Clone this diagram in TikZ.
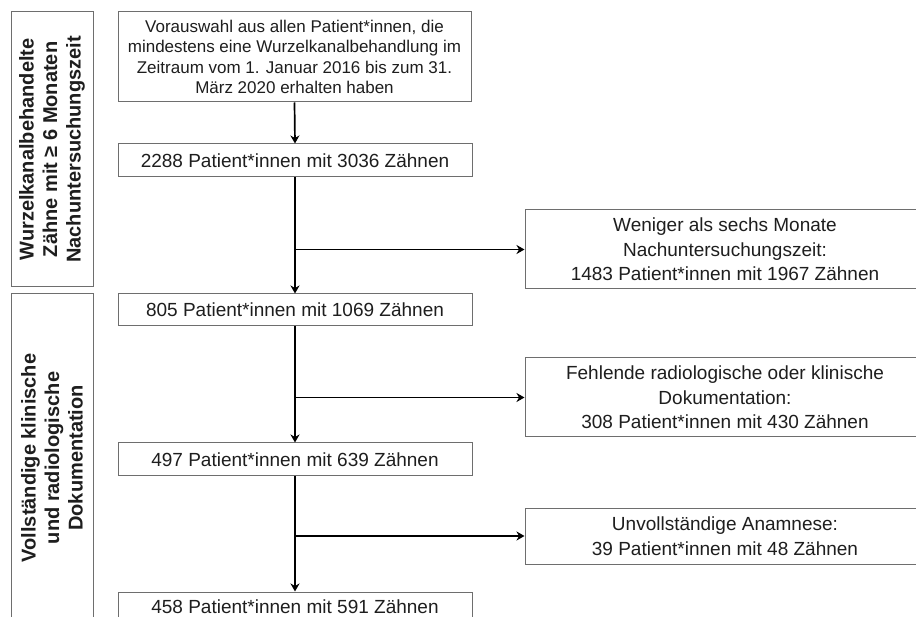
\documentclass[tikz,border=0pt]{standalone}
\usepackage{fontspec}
\setmainfont{Liberation Sans}
\usetikzlibrary{arrows.meta}
\definecolor{boxline}{HTML}{6E6E6E}
\definecolor{txt}{HTML}{1E1E1E}
\tikzset{
  mainbox/.style={draw=boxline, line width=1pt, rectangle, minimum width=354pt, inner sep=0pt, align=center, text=txt, font=\fontsize{19}{23}\selectfont},
  sidebox/.style={draw=boxline, line width=1pt, rectangle, minimum width=400pt, inner sep=0pt, align=center, text=txt, font=\fontsize{19}{24.5}\selectfont},
  labelbox/.style={draw=boxline, line width=1pt, rectangle, rotate=90, minimum height=82pt, inner sep=0pt, align=center, text=txt, font=\fontsize{20}{23.5}\selectfont\bfseries},
  flow/.style={line width=1.7pt, draw=black, -{Stealth[length=8pt,width=9pt,inset=2.5pt]}},
  plain/.style={line width=1.7pt, draw=black}
}
\begin{document}
\begin{tikzpicture}[x=1pt,y=-1pt]
\useasboundingbox (0,0) rectangle (916,617);
\clip (0,0) rectangle (916,617);
\fill[white] (0,0) rectangle (916,617);
% left labels
\node[labelbox, minimum width=275pt] (l1) at (52,149.5) {Wurzelkanalbehandelte\\Zähne mit ≥ 6 Monaten\\Nachuntersuchungszeit};
\node[labelbox, minimum width=328pt] (l2) at (52,458) {Vollständige klinische\\und radiologische\\Dokumentation};
% main column
\node[mainbox, minimum width=353pt, minimum height=90pt, font=\fontsize{17}{20.5}\selectfont] (b1) at (294.5,57) {Vorauswahl aus allen Patient*innen, die\\mindestens eine Wurzelkanalbehandlung im\\Zeitraum vom 1. Januar 2016 bis zum 31.\\März 2020 erhalten haben};
\node[mainbox, minimum height=33pt] (b2) at (295,160.5) {2288 Patient*innen mit 3036 Zähnen};
\node[mainbox, minimum height=32pt] (b3) at (295,310) {805 Patient*innen mit 1069 Zähnen};
\node[mainbox, minimum height=33pt] (b4) at (295,459.5) {497 Patient*innen mit 639 Zähnen};
\node[mainbox, minimum height=30pt] (b5) at (295,607) {458 Patient*innen mit 591 Zähnen};
% side boxes
\node[sidebox, minimum height=79pt] (r1) at (725,249.5) {Weniger als sechs Monate\\Nachuntersuchungszeit:\\1483 Patient*innen mit 1967 Zähnen};
\node[sidebox, minimum height=79pt] (r2) at (725,397.5) {Fehlende radiologische oder klinische\\Dokumentation:\\308 Patient*innen mit 430 Zähnen};
\node[sidebox, minimum height=56pt] (r3) at (725,536) {Unvollständige Anamnese:\\39 Patient*innen mit 48 Zähnen};
% connectors
\draw[flow] (b1.south) -- (b2.north);
\draw[flow] (b2.south) -- (b3.north);
\draw[flow] (b2.south |- r1.west) -- (r1.west);
\draw[flow] (b3.south) -- (b4.north);
\draw[flow] (b3.south |- r2.west) -- (r2.west);
\draw[flow] (b4.south) -- (b5.north);
\draw[flow] (b4.south |- r3.west) -- (r3.west);
\end{tikzpicture}
\end{document}
